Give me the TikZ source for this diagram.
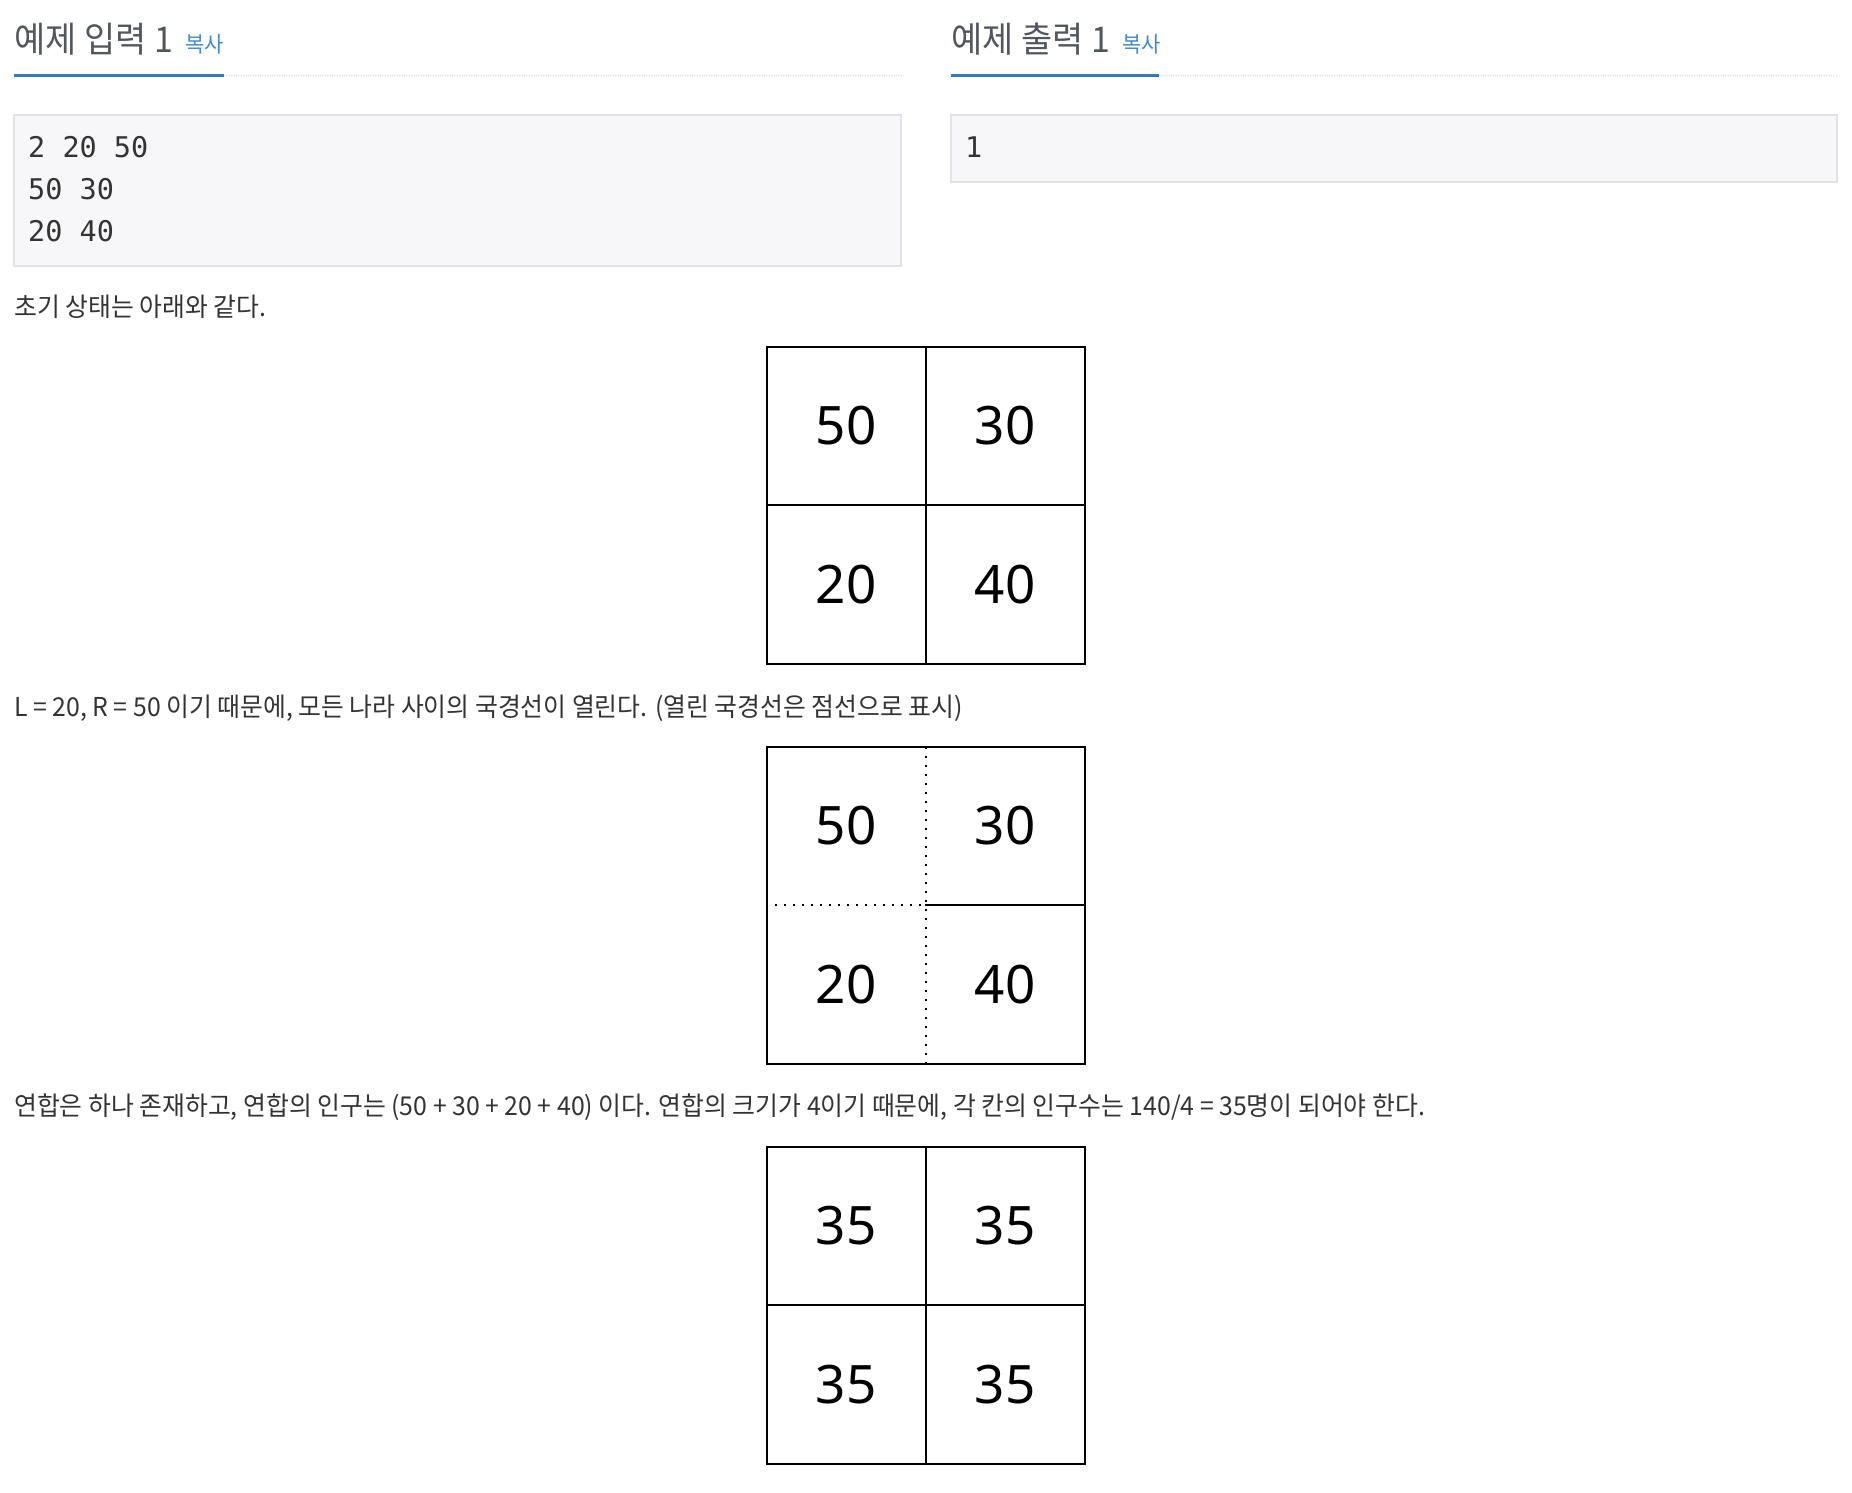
\documentclass[tikz,border=0pt]{standalone}
\usepackage{fontspec}
\setmainfont{Noto Sans CJK KR}[FakeStretch=0.955]
\newfontfamily\monofont{DejaVu Sans Mono}
\newfontfamily\cellfont{Noto Sans}
\usetikzlibrary{positioning}
\definecolor{headgray}{HTML}{52575E}
\definecolor{textgray}{HTML}{333333}
\definecolor{linkblue}{HTML}{428BCA}
\definecolor{barblue}{HTML}{337AB7}
\definecolor{prefill}{HTML}{F7F7F9}
\definecolor{preline}{HTML}{E1E1E8}
\begin{document}
\begin{tikzpicture}
[
x=1pt, y=-1pt,
head/.style={anchor=west,inner sep=0pt,text=headgray,font=\fontsize{35.5}{40}\selectfont},
copy/.style={inner sep=0pt,text=linkblue,font=\fontsize{22}{26}\selectfont},
body/.style={anchor=west,inner sep=0pt,text=textgray,font=\fontsize{26}{30}\selectfont},
code/.style={anchor=west,inner sep=0pt,text=textgray,font=\monofont\fontsize{28.5}{34}\selectfont},
prebox/.style={draw=preline,fill=prefill,line width=1.5pt},
cell/.style={minimum size=158.5pt,inner sep=0pt,font=\cellfont\fontsize{53}{58}\selectfont},
wall/.style={line width=2pt,line cap=rect},
open/.style={line width=2pt,dash pattern=on 2pt off 7pt}
]
\useasboundingbox (0,0) rectangle (1852,1492);

% headings
\node[head] (inhead) at (14,39) {예제 입력 1};
\node[copy,base right=12pt of inhead] (incopy) {복사};
\node[head] (outhead) at (951,39) {예제 출력 1};
\node[copy,base right=12pt of outhead] (outcopy) {복사};
\draw[barblue,line width=3pt] (14,75.5) -- (224,75.5);
\draw[gray!30,dotted] (224,75.5) -- (901,75.5);
\draw[barblue,line width=3pt] (951,75.5) -- (1159,75.5);
\draw[gray!30,dotted] (1159,75.5) -- (1837,75.5);

% sample boxes
\draw[prebox] (14,115) rectangle (901,266);
\node[code] (in1) at (28,147) {2 20 50};
\node[code] (in2) at (28,189) {50 30};
\node[code] (in3) at (28,231) {20 40};
\draw[prebox] (951,115) rectangle (1837,182);
\node[code] (out1) at (965,147) {1};

% texts
\node[body] (say1) at (14,307) {초기 상태는 아래와 같다.};
\node[body] (say2) at (14,708) {L = 20, R = 50 이기 때문에, 모든 나라 사이의 국경선이 열린다. (열린 국경선은 점선으로 표시)};
\node[body] (say3) at (14,1107) {연합은 하나 존재하고, 연합의 인구는 (50 + 30 + 20 + 40) 이다. 연합의 크기가 4이기 때문에, 각 칸의 인구수는 140/4 = 35명이 되어야 한다.};

% first grid
\node[cell] (g1a) at (846.25,426) {50};
\node[cell,right=0pt of g1a] (g1b) {30};
\node[cell,below=0pt of g1a] (g1c) {20};
\node[cell,right=0pt of g1c] (g1d) {40};
\draw[wall] (g1a.north west) rectangle (g1d.south east);
\draw[wall] (g1a.north east) -- (g1c.south east);
\draw[wall] (g1a.south west) -- (g1b.south east);

% second grid, open borders dotted
\node[cell] (g2a) at (846.25,826) {50};
\node[cell,right=0pt of g2a] (g2b) {30};
\node[cell,below=0pt of g2a] (g2c) {20};
\node[cell,right=0pt of g2c] (g2d) {40};
\draw[wall] (g2a.north west) rectangle (g2d.south east);
\draw[open] (g2a.north east) -- (g2c.south east);
\draw[open] ([xshift=8pt]g2a.south west) -- (g2a.south east);
\draw[wall] (g2b.south west) -- (g2b.south east);

% third grid
\node[cell] (g3a) at (846.25,1226) {35};
\node[cell,right=0pt of g3a] (g3b) {35};
\node[cell,below=0pt of g3a] (g3c) {35};
\node[cell,right=0pt of g3c] (g3d) {35};
\draw[wall] (g3a.north west) rectangle (g3d.south east);
\draw[wall] (g3a.north east) -- (g3c.south east);
\draw[wall] (g3a.south west) -- (g3b.south east);
\end{tikzpicture}
\end{document}
